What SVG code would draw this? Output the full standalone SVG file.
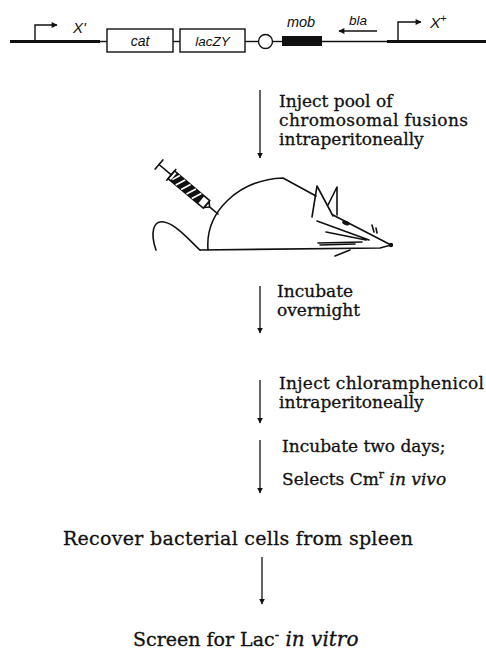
<svg xmlns="http://www.w3.org/2000/svg" width="486" height="655" viewBox="0 0 486 655">
  <defs>
    <marker id="arrowhead" viewBox="0 0 10 10" refX="9" refY="5" markerWidth="6" markerHeight="9" markerUnits="userSpaceOnUse" orient="auto">
      <path d="M0,0 L10,5 L0,10 Z" fill="#111"/>
    </marker>
    <marker id="smallhead" viewBox="0 0 10 10" refX="9" refY="5" markerWidth="8" markerHeight="6" markerUnits="userSpaceOnUse" orient="auto">
      <path d="M0,0 L10,5 L0,10 Z" fill="#111"/>
    </marker>
    <style>
      .gene { font-family: "Liberation Sans", Arial, sans-serif; font-style: italic; fill: #111; }
      .step { font-family: "DejaVu Serif", "Liberation Serif", serif; font-size: 17px; fill: #111; stroke: #111; stroke-width: 0.3; }
      .big { font-family: "DejaVu Serif", "Liberation Serif", serif; font-size: 19px; fill: #111; stroke: #111; stroke-width: 0.3; }
      .thick { stroke: #111; stroke-width: 3.2; fill: none; }
      .thin { stroke: #111; stroke-width: 1.4; fill: none; }
      .box { stroke: #111; stroke-width: 1.4; fill: #fff; }
      .flow { stroke: #111; stroke-width: 1.3; fill: none; marker-end: url(#arrowhead); }
      .draw { stroke: #111; stroke-width: 1.6; fill: none; stroke-linecap: round; stroke-linejoin: round; }
    </style>
  </defs>
  <rect width="486" height="655" fill="#fff"/>

  <!-- chromosomal fusion map -->
  <g id="gene-map">
    <line class="thick" x1="10" y1="41.5" x2="100" y2="41.5"/>
    <line class="thin" x1="100" y1="41.5" x2="107" y2="41.5"/>
    <line class="thin" x1="173" y1="41.5" x2="180" y2="41.5"/>
    <line class="thin" x1="245" y1="41.5" x2="258.5" y2="41.5"/>
    <line class="thin" x1="272.5" y1="41.5" x2="282" y2="41.5"/>
    <line class="thin" x1="322" y1="41.5" x2="387" y2="41.5"/>
    <line class="thick" x1="387" y1="41.5" x2="486" y2="41.5"/>

    <g id="promoter-left">
      <path class="thin" d="M35,41 L35,25 L57,25" marker-end="url(#smallhead)"/>
      <text class="gene" x="73" y="33" font-size="15">X'</text>
    </g>
    <g id="cat">
      <rect class="box" x="107" y="29" width="66" height="23"/>
      <text class="gene" x="140" y="46" font-size="14" text-anchor="middle">cat</text>
    </g>
    <g id="lacZY">
      <rect class="box" x="180" y="29" width="65" height="23"/>
      <text class="gene" x="212.5" y="46" font-size="13.5" text-anchor="middle">lacZY</text>
    </g>
    <g id="terminator">
      <circle class="box" cx="265.5" cy="41.5" r="7"/>
    </g>
    <g id="mob">
      <rect x="282" y="36" width="40" height="10" fill="#111"/>
      <text class="gene" x="301" y="27" font-size="14.5" text-anchor="middle">mob</text>
    </g>
    <g id="bla">
      <line class="thin" x1="377" y1="31" x2="339" y2="31" marker-end="url(#smallhead)"/>
      <text class="gene" x="358" y="25" font-size="13.5" text-anchor="middle">bla</text>
    </g>
    <g id="promoter-right">
      <path class="thin" d="M398,41 L398,22 L421,22" marker-end="url(#smallhead)"/>
      <text class="gene" x="430" y="28" font-size="15.5">X<tspan font-style="normal" font-size="11" dy="-6">+</tspan></text>
    </g>
  </g>

  <!-- mouse with syringe -->
  <g id="mouse">
    <path class="draw" d="M200,250 L380,248 L391,245"/>
    <path class="draw" d="M208,250 C205,212 238,180 283,178 L316,196"/>
    <path class="draw" d="M200,250 C190,241 176,224 164,222 C153,220 150,233 156,250"/>
    <path class="draw" d="M312,217 L317,186 L333,216"/>
    <path class="draw" d="M328,205 L337,187 L337,215"/>
    <path class="draw" d="M333,215 L391,245"/>
    <circle cx="391" cy="245" r="2.2" fill="#111"/>
    <ellipse cx="346" cy="223" rx="4" ry="2" transform="rotate(20 346 223)" fill="#111"/>
    <path class="draw" stroke-width="1.2" d="M317,221 L369,240 M326,232 L366,240 M318,243 L362,242 M320,245 L355,244 M335,256 L350,250 M372,225 L374,232 M376,228 L377,233"/>
  </g>

  <g id="syringe" transform="translate(218,214) rotate(220)">
    <line class="draw" x1="0" y1="0" x2="11" y2="0"/>
    <path class="draw" d="M11,0 L15,-4 L15,4 Z"/>
    <rect x="15" y="-5" width="46" height="10" fill="#fff" stroke="#111" stroke-width="1.6"/>
    <rect x="22" y="-5" width="36" height="10" fill="#111"/>
    <path stroke="#fff" stroke-width="1.6" d="M26,5 L30,-5 M33,5 L37,-5 M40,5 L44,-5 M47,5 L51,-5 M54,5 L57,-3"/>
    <line class="draw" x1="61" y1="-7" x2="61" y2="7"/>
    <line class="draw" x1="61" y1="0" x2="77" y2="0"/>
    <line class="draw" x1="77" y1="-6" x2="77" y2="6"/>
  </g>

  <!-- step arrows -->
  <g id="connectors">
    <line class="flow" x1="260" y1="90" x2="260" y2="158"/>
    <line class="flow" x1="260" y1="286" x2="260" y2="333"/>
    <line class="flow" x1="260" y1="380" x2="260" y2="423"/>
    <line class="flow" x1="260" y1="440" x2="260" y2="493"/>
    <line class="flow" x1="262" y1="557" x2="262" y2="604"/>
  </g>

  <g id="step-inject-pool">
    <text class="step" x="279" y="107">Inject pool of</text>
    <text class="step" x="279" y="126" textLength="189">chromosomal fusions</text>
    <text class="step" x="279" y="145">intraperitoneally</text>
  </g>
  <g id="step-incubate">
    <text class="step" x="277" y="297">Incubate</text>
    <text class="step" x="277" y="316">overnight</text>
  </g>
  <g id="step-chloramphenicol">
    <text class="step" x="279" y="389" textLength="205">Inject chloramphenicol</text>
    <text class="step" x="279" y="408">intraperitoneally</text>
  </g>
  <g id="step-select">
    <text class="step" x="282" y="452">Incubate two days;</text>
    <text class="step" x="282" y="485">Selects Cm<tspan font-size="11" dy="-7">r</tspan><tspan dy="7" font-style="italic"> in vivo</tspan></text>
  </g>
  <g id="step-recover">
    <text class="big" x="63" y="545" textLength="350">Recover bacterial cells from spleen</text>
  </g>
  <g id="step-screen">
    <text class="big" x="133" y="646">Screen for Lac<tspan font-size="13" dy="-7">-</tspan><tspan dy="7" font-style="italic" font-size="20"> in vitro</tspan></text>
  </g>
</svg>
